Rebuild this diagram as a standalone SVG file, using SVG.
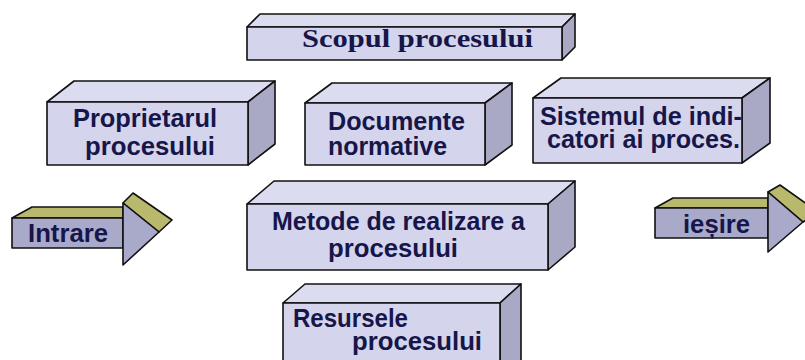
<svg xmlns="http://www.w3.org/2000/svg" width="805" height="360" viewBox="0 0 805 360">
<style>
.front{fill:#d4d4ec;stroke:#111;stroke-width:1.6;stroke-linejoin:round}
.top{fill:#dcdcf1;stroke:#111;stroke-width:1.6;stroke-linejoin:round}
.side{fill:#a9a9c5;stroke:#111;stroke-width:1.6;stroke-linejoin:round}
.abody{fill:#a9a9c9;stroke:#111;stroke-width:1.6;stroke-linejoin:round}
.olive{fill:#b9b96e;stroke:#111;stroke-width:1.6;stroke-linejoin:round}
.t{font-family:"Liberation Sans",Arial,sans-serif;font-weight:bold;font-size:25px;fill:#16164a}
.ts{font-family:"Liberation Serif","Times New Roman",serif;font-weight:bold;font-size:26px;fill:#16164a}
</style>
<rect width="805" height="360" fill="#ffffff"/>
<g id="scopul">
<polygon class="top" points="247,27 260,14 575,14 562,27"/>
<polygon class="side" points="562,27 575,14 575,47 562,60"/>
<rect class="front" x="247" y="27" width="315" height="33"/>
<text class="ts" x="302" y="47" textLength="231" lengthAdjust="spacingAndGlyphs">Scopul procesului</text>
</g>
<g id="proprietarul">
<polygon class="top" points="47,102 74,81 275,81 248,102"/>
<polygon class="side" points="248,102 275,81 275,144 248,165"/>
<rect class="front" x="47" y="102" width="201" height="63"/>
<text class="t" x="73" y="127" textLength="144" lengthAdjust="spacingAndGlyphs">Proprietarul</text>
<text class="t" x="85" y="155" textLength="130" lengthAdjust="spacingAndGlyphs">procesului</text>
</g>
<g id="documente">
<polygon class="top" points="305,103 332,83 512,83 485,103"/>
<polygon class="side" points="485,103 512,83 512,145 485,165"/>
<rect class="front" x="305" y="103" width="180" height="62"/>
<text class="t" x="328" y="130" textLength="137" lengthAdjust="spacingAndGlyphs">Documente</text>
<text class="t" x="328" y="155" textLength="119" lengthAdjust="spacingAndGlyphs">normative</text>
</g>
<g id="sistemul">
<polygon class="top" points="533,98 561,78 770,78 742,98"/>
<polygon class="side" points="742,98 770,78 770,143 742,163"/>
<rect class="front" x="533" y="98" width="209" height="65"/>
<text class="t" x="540" y="125" textLength="202" lengthAdjust="spacingAndGlyphs">Sistemul de indi-</text>
<text class="t" x="547" y="148" textLength="193" lengthAdjust="spacingAndGlyphs">catori ai proces.</text>
</g>
<g id="metode">
<polygon class="top" points="247,204 274,181 575,181 548,204"/>
<polygon class="side" points="548,204 575,181 575,247 548,270"/>
<rect class="front" x="247" y="204" width="301" height="66"/>
<text class="t" x="272" y="230" textLength="253" lengthAdjust="spacingAndGlyphs">Metode de realizare a</text>
<text class="t" x="328" y="257" textLength="130" lengthAdjust="spacingAndGlyphs">procesului</text>
</g>
<g id="resursele">
<polygon class="top" points="283,303 305,284 521,284 500,303"/>
<polygon class="side" points="500,303 521,284 521,366 500,385"/>
<rect class="front" x="283" y="303" width="217" height="80"/>
<text class="t" x="293" y="327" textLength="115" lengthAdjust="spacingAndGlyphs">Resursele</text>
<text class="t" x="352" y="350" textLength="130" lengthAdjust="spacingAndGlyphs">procesului</text>
</g>
<g id="intrare">
<polygon class="olive" points="12,218 32,207 123,207 123,218"/>
<rect class="abody" x="12" y="218" width="111" height="30"/>
<polygon class="olive" points="123,203 133,193 172,220 159,232"/>
<polygon class="abody" points="123,203 159,232 123,265"/>
<text class="t" x="28" y="242" textLength="80" lengthAdjust="spacingAndGlyphs">Intrare</text>
</g>
<g id="iesire">
<polygon class="olive" points="655,208 673,198 768,198 768,208"/>
<rect class="abody" x="655" y="208" width="113" height="30"/>
<polygon class="olive" points="768,192 780,185 818,212 803,222"/>
<polygon class="abody" points="768,192 803,222 768,252"/>
<text class="t" x="683" y="233" textLength="67" lengthAdjust="spacingAndGlyphs">ieșire</text>
</g>
<g id="connectors"></g>
</svg>
